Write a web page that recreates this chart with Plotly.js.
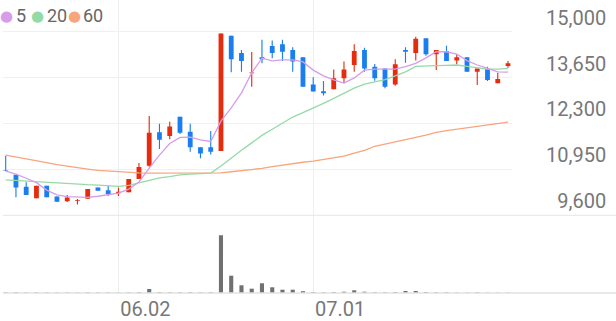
<!DOCTYPE html>
<html><head><meta charset="utf-8">
<script src="https://cdn.plot.ly/plotly-3.0.1.min.js"></script>
<style>html,body{margin:0;padding:0;background:#fff}#chart{width:616px;height:321px}</style>
</head><body><div id="chart"></div>
<script>
const dates = ['05.16','05.19','05.20','05.21','05.22','05.23','05.26','05.27','05.28','05.29',
  '05.30','06.02','06.04','06.05','06.09','06.10','06.11','06.12','06.13','06.16',
  '06.17','06.18','06.19','06.20','06.23','06.24','06.25','06.26','06.27','06.30',
  '07.01','07.02','07.03','07.04','07.07','07.08','07.09','07.10','07.11','07.14',
  '07.15','07.16','07.17','07.18','07.21','07.22','07.23','07.24','07.25','07.28'];
const open  = [10920,10790,10440,10100,10470,10150,10010,10030,10090,10420,
  10340,10250,10280,10670,11060,12040,11930,12500,12060,11600,
  11600,11490,14880,14370,13780,14250,14580,14630,14460,14250,
  13450,13250,13310,13630,14020,14460,13970,13920,13450,14460,
  14370,14810,14340,14430,14150,14250,13820,13900,13480,13990];
const high  = [11350,10790,10570,10470,10470,10150,10200,10080,10370,10420,
  10460,10420,10670,11140,12520,12290,12350,12500,12290,11600,
  12080,14950,14880,14460,14400,14760,14740,14760,14540,14250,
  13660,13550,13890,14120,14630,14530,14050,13920,14190,14540,
  14850,14810,14460,14590,14340,14250,13920,13970,13790,14140];
const low   = [10900,10130,10200,10100,10130,10000,9990,9920,10090,10320,
  10170,10170,10280,10670,11030,11550,11840,11990,11470,11280,
  11390,11490,13810,13820,13380,14070,14220,14140,13820,13380,
  13240,13120,13310,13480,13820,13820,13560,13340,13410,14090,
  14150,14290,13870,14140,14040,13820,13430,13550,13480,13940];
const close = [10900,10420,10200,10470,10130,10000,10120,10050,10370,10320,
  10220,10290,10670,11020,12030,11820,12210,12030,11600,11420,
  11470,14950,14190,14140,13800,14190,14370,14410,14120,13380,
  13240,13190,13630,13890,14430,13920,13630,13380,14040,14410,
  14790,14340,14460,14140,14250,13820,13920,13580,13610,14070];
const ma5  = [10900,10810,10690,10560,10340,10200,10150,10130,10130,10160,
  10200,10250,10370,10580,10990,11370,11710,11890,11900,11820,
  11770,12370,12760,13200,13790,14220,14140,14170,14170,14110,
  13870,13700,13580,13490,13640,13870,13900,13890,13900,13970,
  14070,14230,14410,14410,14340,14150,14020,13920,13820,13810];
const ma20 = [10640,10620,10610,10590,10570,10560,10540,10520,10500,10490,
  10470,10450,10480,10550,10620,10700,10740,10790,10810,10820,
  10840,11050,11290,11510,11730,11950,12130,12310,12490,12620,
  12750,12890,13040,13200,13340,13460,13530,13590,13700,13820,
  13980,14000,14000,14010,14020,13980,13930,13900,13900,13920];
const ma60 = [11370,11320,11270,11210,11150,11090,11040,11000,10960,10920,
  10900,10870,10860,10850,10840,10840,10840,10830,10830,10830,
  10830,10850,10880,10910,10940,10980,11030,11080,11120,11160,
  11190,11240,11290,11340,11430,11510,11630,11690,11760,11830,
  11890,11960,12040,12090,12130,12170,12220,12260,12300,12340];
const volume = [60,70,50,60,50,40,50,40,60,50,
  50,40,60,80,400,80,70,70,80,60,
  80,5770,1730,770,430,970,570,330,330,180,
  100,70,100,130,270,130,70,70,100,200,
  200,100,70,70,40,40,70,30,30,30];
const priceTicks = [9600,10950,12300,13650,15000];
const priceTickText = ['\u20079,600','10,950','12,300','13,650','15,000'];
const dateTicks = ['06.02','07.01'];
const maNames = ['5','20','60'];

const UP = '#e62c0e', DOWN = '#1b7ef0';
const MA_COLORS = ['#d79cea','#93dba6','#f8a57e'];
const candleColors = close.map((c,i) => c >= open[i] ? UP : DOWN);
const wickLen = high.map((h,i) => h - low[i]);
const bodyLen = close.map((c,i) => Math.max(Math.abs(c - open[i]), 10));
const bodyBase = close.map((c,i) => Math.min(c, open[i]));

const traces = [
  {type:'scatter', mode:'lines', x:dates, y:ma60, line:{color:MA_COLORS[2], width:1.3}, hoverinfo:'skip'},
  {type:'scatter', mode:'lines', x:dates, y:ma20, line:{color:MA_COLORS[1], width:1.3}, hoverinfo:'skip'},
  {type:'scatter', mode:'lines', x:dates, y:ma5,  line:{color:MA_COLORS[0], width:1.3}, hoverinfo:'skip'},
  {type:'bar', x:dates, y:wickLen, base:low, width:0.11, marker:{color:candleColors, line:{width:0}}},
  {type:'bar', x:dates, y:bodyLen, base:bodyBase, width:0.47, marker:{color:candleColors, line:{width:0}}},
  {type:'bar', x:dates, y:volume, yaxis:'y2', width:0.4, marker:{color:'#707070', line:{width:0}}}
];

// legend: coloured dot + label for each moving average
const dotX = [0.0075, 0.0685, 0.1410];
const labelX = [0.0236, 0.0839, 0.1558];
const legendAnn = [];
maNames.forEach((n,i) => {
  legendAnn.push({text:'\u25CF', xref:'paper', yref:'paper', x:dotX[i], y:0.947, xanchor:'center', yanchor:'middle',
    showarrow:false, borderpad:0, font:{family:'DejaVu Sans', size:15, color:MA_COLORS[i]}, yshift:0});
  legendAnn.push({text:n, xref:'paper', yref:'paper', x:labelX[i], y:0.947, xanchor:'left', yanchor:'middle',
    showarrow:false, borderpad:0, font:{family:'Roboto, sans-serif', size:18, color:'#666666'}});
});

const layout = {
  width:616, height:321,
  margin:{l:3, r:104, t:0, b:28},
  paper_bgcolor:'#ffffff', plot_bgcolor:'#ffffff',
  showlegend:false, barmode:'overlay', bargap:0.2,
  font:{family:'Roboto, sans-serif', color:'#777777', size:20},
  xaxis:{type:'category', anchor:'y2', range:[-0.263, 49.39], tickmode:'array', tickvals:dateTicks,
    showgrid:true, gridcolor:'#eeeeee', gridwidth:1, ticks:'', zeroline:false, showline:false,
    ticklabelshift:27, ticklabelstandoff:2, tickfont:{size:20, color:'#777777'}},
  yaxis:{domain:[0.2652,1], range:[9600,15932], side:'right', tickmode:'array',
    tickvals:priceTicks, ticktext:priceTickText, ticklabelposition:'outside top',
    showgrid:true, gridcolor:'#f0f0f0', gridwidth:1, zeroline:false, showline:false, ticks:'',
    ticklabelstandoff:33, tickfont:{size:20, color:'#777777'}},
  yaxis2:{domain:[0,0.2652], range:[0,7770], showgrid:false, zeroline:false, showline:false,
    showticklabels:false, ticks:''},
  shapes:[
    {type:'line', xref:'paper', yref:'paper', x0:0, x1:1.205, y0:0.2652, y1:0.2652, line:{color:'#ebebeb', width:1.2}},
    {type:'line', xref:'paper', yref:'paper', x0:0, x1:1.205, y0:0, y1:0, line:{color:'#e2e2e2', width:1.5}}
  ],
  annotations:legendAnn
};

Plotly.newPlot('chart', traces, layout, {staticPlot:true, displayModeBar:false});
</script>
</body></html>
